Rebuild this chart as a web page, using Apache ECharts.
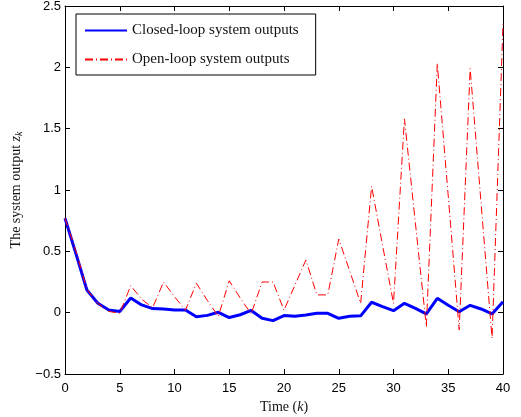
<!DOCTYPE html>
<html>
	<head>
		<meta charset="utf-8">
		<title>system output</title>
		<style>
			html, body { margin: 0; padding: 0; background: #fff; }
			#main { width: 521px; height: 417px; }
		</style>
	</head>
	<body>
		<div id="main"></div>
	</body>
	<script src="https://cdn.jsdelivr.net/npm/echarts@6/dist/echarts.min.js"></script>
	<script>
		// time steps k = 0..40
		var steps = [];
		for (var i = 0; i <= 40; i++) steps.push(i);

		// closed-loop outputs
		var closedLoop = [0.77, 0.48, 0.185, 0.077, 0.022, 0.01, 0.12, 0.063, 0.033, 0.03,
			0.022, 0.022, -0.033, -0.022, 0.003, -0.04, -0.017, 0.018, -0.046, -0.065,
			-0.024, -0.03, -0.019, -0.005, -0.005, -0.046, -0.03, -0.026, 0.085, 0.05,
			0.016, 0.076, 0.035, -0.01, 0.117, 0.06, 0.008, 0.06, 0.03, -0.01, 0.09];

		// open-loop outputs
		var openLoop = [0.77, 0.5, 0.19, 0.075, 0.01, -0.005, 0.22, 0.11, 0.04, 0.25,
			0.13, 0.02, 0.24, 0.1, -0.03, 0.26, 0.12, -0.01, 0.25, 0.25,
			0.02, 0.225, 0.43, 0.145, 0.145, 0.6, 0.34, 0.076, 1.03, 0.55,
			0.076, 1.58, 0.73, -0.114, 2.03, 0.95, -0.14, 1.99, 0.89, -0.21, 2.35];

		var xTicks = [0, 5, 10, 15, 20, 25, 30, 35, 40];
		var yTicks = [-0.5, 0, 0.5, 1, 1.5, 2, 2.5];

		function pairs(vals) {
			var out = [];
			for (var j = 0; j < steps.length; j++) out.push([steps[j], vals[j]]);
			return out;
		}
		function fmt(v) {
			return v < 0 ? '\u2212' + Math.abs(v) : String(v);
		}

		var sansFont = 'Liberation Sans';
		var serifFont = 'Liberation Serif';
		var tickStyle = { show: true, inside: true, length: 5, lineStyle: { color: '#000', width: 1 } };
		var lineStyle = { show: true, onZero: false, lineStyle: { color: '#000', width: 1 } };

		var myChart = echarts.init(document.getElementById('main'));
		var option = {
			animation: false,
			backgroundColor: '#fff',
			grid: { left: 65, right: 18, top: 6, bottom: 43, containLabel: false, outerBoundsMode: 'none' },
			legend: {
				orient: 'vertical',
				left: 76,
				top: 14,
				padding: [9, 17, 8, 8],
				itemWidth: 42,
				itemHeight: 14,
				itemGap: 14,
				backgroundColor: '#fff',
				borderColor: '#000',
				borderWidth: 1,
				borderRadius: 0,
				itemStyle: { opacity: 0 },
				textStyle: { fontFamily: serifFont, fontSize: 15, color: '#111' },
				data: ['Closed-loop system outputs', 'Open-loop system outputs']
			},
			xAxis: [{
				type: 'value',
				min: 0,
				max: 40,
				interval: 5,
				name: 'Time ({i|k})',
				nameLocation: 'middle',
				nameGap: 24,
				nameTextStyle: {
					fontFamily: serifFont, fontSize: 14, color: '#111',
					rich: { i: { fontFamily: serifFont, fontStyle: 'italic', fontSize: 14, color: '#111' } }
				},
				axisLine: lineStyle,
				axisTick: tickStyle,
				splitLine: { show: false },
				axisLabel: { fontFamily: sansFont, fontSize: 13, color: '#000', margin: 8, formatter: fmt }
			}, {
				type: 'value',
				position: 'top',
				min: 0,
				max: 40,
				interval: 5,
				axisLine: lineStyle,
				axisTick: tickStyle,
				splitLine: { show: false },
				axisLabel: { show: false }
			}],
			yAxis: [{
				type: 'value',
				min: -0.5,
				max: 2.5,
				interval: 0.5,
				name: 'The system output {i|z}{s|k}',
				nameLocation: 'middle',
				nameGap: 39,
				nameTextStyle: {
					fontFamily: serifFont, fontSize: 14, color: '#111',
					rich: {
						i: { fontFamily: serifFont, fontStyle: 'italic', fontSize: 14, color: '#111' },
						s: { fontFamily: serifFont, fontStyle: 'italic', fontSize: 10, color: '#111', padding: [6, 0, 0, 0] }
					}
				},
				axisLine: lineStyle,
				axisTick: tickStyle,
				splitLine: { show: false },
				axisLabel: { fontFamily: sansFont, fontSize: 13, color: '#000', margin: 4, formatter: fmt }
			}, {
				type: 'value',
				position: 'right',
				min: -0.5,
				max: 2.5,
				interval: 0.5,
				axisLine: lineStyle,
				axisTick: tickStyle,
				splitLine: { show: false },
				axisLabel: { show: false }
			}],
			series: [{
				name: 'Closed-loop system outputs',
				type: 'line',
				data: pairs(closedLoop),
				symbol: 'none',
				color: '#0000ff',
				lineStyle: { color: '#0000ff', width: 3 }
			}, {
				name: 'Open-loop system outputs',
				type: 'line',
				data: pairs(openLoop),
				symbol: 'none',
				color: '#ff0000',
				lineStyle: { color: '#ff0000', width: 1, type: [8, 3, 1, 3] }
			}]
		};
		myChart.setOption(option);
	</script>
</html>
